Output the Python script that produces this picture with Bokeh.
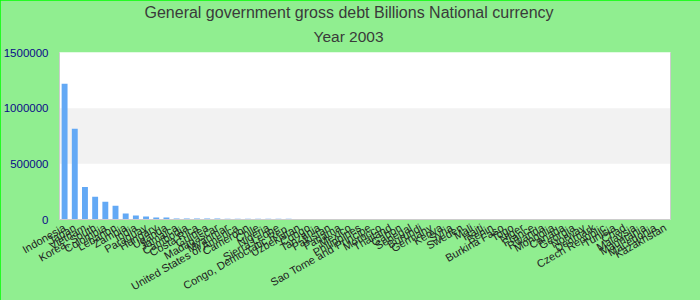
from bokeh.plotting import figure
from bokeh.models import (ColumnDataSource, FactorRange, Range1d, FixedTicker,
                          NumeralTickFormatter, BoxAnnotation, Title, LinearAxis)
from bokeh.embed import file_html
from bokeh.resources import INLINE

countries = [
    "Indonesia", "Japan", "Vietnam", "Korea, South", "Colombia", "Lebanon",
    "Zambia", "India", "Paraguay", "Hungary", "Uganda", "Jamaica", "Cambodia",
    "Costa Rica", "Guinea", "Madagascar", "Myanmar", "United States of America",
    "Cameroon", "Chile", "Nigeria", "Sierra Leone", "Congo, Democratic Rep.",
    "Uzbekistan", "Congo", "Tanzania", "Pakistan", "Panama", "Mexico",
    "Philippines", "Sao Tome and Principe", "Morocco", "Thailand", "Gabon",
    "Senegal", "Burundi", "Germany", "Kenya", "Syria", "Sweden", "Mali",
    "Haiti", "Benin", "Burkina Faso", "Togo", "Niger", "France", "Rwanda",
    "Mongolia", "Canada", "Georgia", "Norway", "Denmark", "Czech Republic",
    "Tunisia", "Chad", "Malaysia", "Mauritania", "Macedonia", "Kazakhstan",
]
debt = [
    1220000, 815000, 293000, 204000, 160000, 124000,
    53000, 35000, 27000, 18000, 17000, 9000, 8800,
    8500, 8200, 8000, 7600, 7200,
    6900, 6600, 6300, 6000, 5700,
    5400, 1800, 1700, 1650, 1600, 1550,
    1500, 1450, 1400, 1380, 1350,
    1300, 1250, 1200, 1150, 1100, 1050, 1000,
    950, 900, 850, 800, 760, 720, 690,
    660, 630, 600, 570, 540, 500,
    450, 400, 350, 300, 250, 200,
]
y_ticks = [0, 500000, 1000000, 1500000]
band_bottom, band_top = 500000, 1000000

src = ColumnDataSource(dict(country=countries, debt=debt))

p = figure(width=700, height=300,
           x_range=FactorRange(factors=countries, range_padding=0),
           y_range=Range1d(0, 1500000),
           output_backend="svg", toolbar_location=None,
           min_border_left=0, min_border_right=30,
           min_border_top=0, min_border_bottom=0)

p.background_fill_color = "white"
p.border_fill_color = "#90ee90"
p.outline_line_color = None
p.xgrid.grid_line_color = None
p.ygrid.grid_line_color = None
p.styles = {"outline": "2px solid #00ff00", "outline-offset": "-2px"}

p.add_layout(BoxAnnotation(bottom=band_bottom, top=band_top,
                           fill_color="#f2f2f2", fill_alpha=1.0,
                           line_color=None, level="underlay"))

p.vbar(x="country", top="debt", width=0.58, source=src,
       fill_color="#63a9f5", line_color=None)

p.add_layout(Title(text="Year 2003", align="left", offset=254,
                   vertical_align="top", text_font_size="15.5px",
                   text_color="#3a3a3a", text_font_style="normal",
                   text_font="Liberation Sans", standoff=12), "above")
p.add_layout(Title(text="General government gross debt Billions National currency",
                   align="left", offset=85, vertical_align="bottom",
                   text_font_size="16px", standoff=2,
                   text_color="#3a3a3a", text_font_style="normal",
                   text_font="Liberation Sans"), "above")

ya = p.yaxis[0]
ya.ticker = FixedTicker(ticks=y_ticks)
ya.formatter = NumeralTickFormatter(format="0")
ya.major_label_text_color = "#0b0b88"
ya.major_label_text_font = "Liberation Sans"
ya.major_label_text_font_size = "11.5px"
ya.major_tick_line_color = None
ya.minor_tick_line_color = None
ya.axis_line_color = "#cccccc"
ya.major_label_standoff = 5

xa = p.xaxis[0]
xa.major_label_orientation = 0.52
xa.major_label_text_font = "Liberation Sans"
xa.major_label_text_font_size = "11px"
xa.major_label_text_color = "#222222"
xa.major_tick_line_color = None
xa.minor_tick_line_color = None
xa.axis_line_color = "#cccccc"
xa.major_label_standoff = 1

ra = LinearAxis(ticker=FixedTicker(ticks=[]), axis_line_color="#cccccc",
                major_tick_line_color=None, minor_tick_line_color=None,
                major_label_text_font_size="0px")
p.add_layout(ra, "right")

open("out.html", "w").write(file_html(p, INLINE))
